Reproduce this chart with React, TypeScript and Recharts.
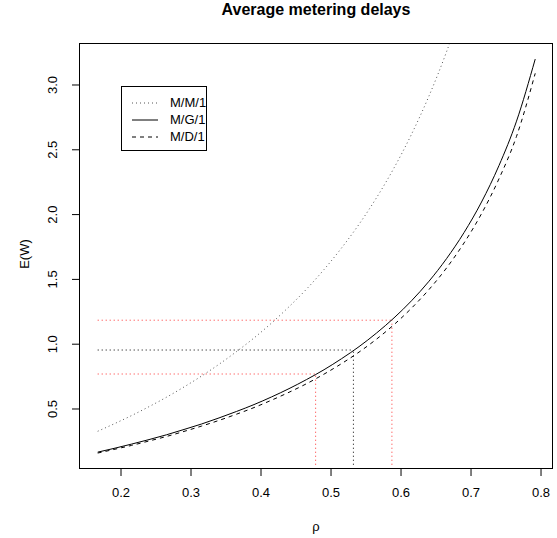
import { LineChart, Line, XAxis, YAxis, ReferenceLine, Legend } from 'recharts';

const rho = [
  0.1667, 0.19, 0.215, 0.24, 0.265, 0.29, 0.315, 0.34, 0.365, 0.39, 0.415, 0.44, 0.465,
  0.49, 0.515, 0.54, 0.565, 0.59, 0.615, 0.64, 0.665, 0.69, 0.715, 0.74, 0.765, 0.7917,
];
const mm1 = [
  0.328, 0.385, 0.449, 0.518, 0.591, 0.67, 0.754, 0.845, 0.943, 1.048, 1.163, 1.289, 1.425,
  1.576, 1.742, 1.925, 2.13, 2.36, 2.62, 2.916, 3.256, 3.65, 4.114, 4.668, 5.339, 6.233,
];
const mg1 = [
  0.167, 0.196, 0.229, 0.264, 0.301, 0.342, 0.384, 0.431, 0.481, 0.534, 0.593, 0.657, 0.727,
  0.803, 0.888, 0.981, 1.086, 1.203, 1.335, 1.486, 1.66, 1.861, 2.097, 2.379, 2.721, 3.2,
];
const md1 = [
  0.16, 0.188, 0.219, 0.253, 0.288, 0.327, 0.368, 0.412, 0.46, 0.511, 0.568, 0.629, 0.695,
  0.769, 0.85, 0.939, 1.039, 1.151, 1.278, 1.422, 1.588, 1.781, 2.007, 2.277, 2.604, 3.09,
];

// metering points read on the M/G/1 curve
const guideRho = [0.478, 0.532, 0.587];
const guideW = [0.77, 0.955, 1.185];
const guideColor = ['#ff3030', '#000000', '#ff3030'];

const xTicks = [0.2, 0.3, 0.4, 0.5, 0.6, 0.7, 0.8];
const yTicks = [0.5, 1.0, 1.5, 2.0, 2.5, 3.0];

const seriesNames = ['M/M/1', 'M/G/1', 'M/D/1'];
const seriesDash = ['1 3', undefined, '4 4'];
const seriesColor = ['#555', '#000', '#000'];

const data = rho.map((r, i) => ({ rho: r, mm1: mm1[i], mg1: mg1[i], md1: md1[i] }));

const FONT = '"Liberation Sans", Arial, sans-serif';

const YTick = ({ x, y, payload }: any) => (
  <text
    x={x}
    y={y}
    transform={`rotate(-90, ${x}, ${y})`}
    textAnchor="middle"
    fontSize={13}
    fontFamily={FONT}
    fill="#000"
  >
    {payload.value.toFixed(1)}
  </text>
);

const LegendBox = () => (
  <div
    style={{
      width: 86,
      height: 65,
      border: '1px solid #000',
      boxSizing: 'border-box',
      background: '#fff',
      paddingTop: 7,
      fontFamily: FONT,
      fontSize: 13,
      color: '#000',
    }}
  >
    {seriesNames.map((name, i) => (
      <div key={name} style={{ height: 17, lineHeight: '17px', position: 'relative' }}>
        <svg width={28} height={17} style={{ position: 'absolute', left: 10, top: 0 }}>
          <line x1={0} y1={9} x2={26} y2={9} stroke={seriesColor[i]} strokeDasharray={seriesDash[i]} />
        </svg>
        <span style={{ position: 'absolute', left: 48, top: 0 }}>{name}</span>
      </div>
    ))}
  </div>
);

export default function App() {
  return (
    <div style={{ position: 'absolute', left: 0, top: 0, width: 557, height: 538, fontFamily: FONT }}>
      <LineChart width={557} height={538} data={data} margin={{ top: 43, right: 4, bottom: 0, left: 0 }}>
        <XAxis
          dataKey="rho"
          type="number"
          domain={[0.14, 0.8171]}
          allowDataOverflow
          ticks={xTicks}
          tickFormatter={(v: number) => v.toFixed(1)}
          axisLine={false}
          tickLine={{ stroke: '#000' }}
          tickSize={7}
          tickMargin={12}
          height={69}
          tick={{ fontSize: 13, fill: '#000', fontFamily: FONT }}
        />
        <YAxis
          type="number"
          domain={[0.037, 3.324]}
          allowDataOverflow
          ticks={yTicks}
          axisLine={false}
          tickLine={{ stroke: '#000' }}
          tickSize={7}
          tickMargin={15}
          width={79}
          tick={<YTick />}
        />
        {guideRho.map((r, i) => (
          <ReferenceLine
            key={`h${i}`}
            segment={[
              { x: rho[0], y: guideW[i] },
              { x: r, y: guideW[i] },
            ]}
            stroke={guideColor[i]}
            strokeDasharray="1 3"
          />
        ))}
        {guideRho.map((r, i) => (
          <ReferenceLine
            key={`v${i}`}
            segment={[
              { x: r, y: 0.07 },
              { x: r, y: guideW[i] },
            ]}
            stroke={guideColor[i]}
            strokeDasharray="1 3"
          />
        ))}
        <Line dataKey="mm1" type="monotone" stroke={seriesColor[0]} strokeDasharray="1 3" dot={false} isAnimationActive={false} />
        <Line dataKey="mg1" type="monotone" stroke={seriesColor[1]} dot={false} isAnimationActive={false} />
        <Line dataKey="md1" type="monotone" stroke={seriesColor[2]} strokeDasharray="4 4" dot={false} isAnimationActive={false} />
        <Legend
          layout="vertical"
          align="center"
          verticalAlign="middle"
          content={<LegendBox />}
          wrapperStyle={{ left: 121, top: 86, width: 86, height: 65 }}
        />
      </LineChart>
      <div
        style={{
          position: 'absolute',
          left: 79,
          top: 43,
          width: 474,
          height: 426,
          border: '1px solid #000',
          boxSizing: 'border-box',
          pointerEvents: 'none',
        }}
      />
      <div
        style={{
          position: 'absolute',
          left: 316,
          top: 2,
          transform: 'translateX(-50%)',
          fontSize: 16,
          fontWeight: 'bold',
          lineHeight: '16px',
          whiteSpace: 'nowrap',
        }}
      >
        Average metering delays
      </div>
      <div
        style={{
          position: 'absolute',
          left: 316,
          top: 520,
          transform: 'translateX(-50%)',
          fontSize: 13,
          lineHeight: '13px',
        }}
      >
        ρ
      </div>
      <div
        style={{
          position: 'absolute',
          left: 24,
          top: 254,
          transform: 'translate(-50%, -50%) rotate(-90deg)',
          fontSize: 13,
          lineHeight: '13px',
          whiteSpace: 'nowrap',
        }}
      >
        E(W)
      </div>
    </div>
  );
}
